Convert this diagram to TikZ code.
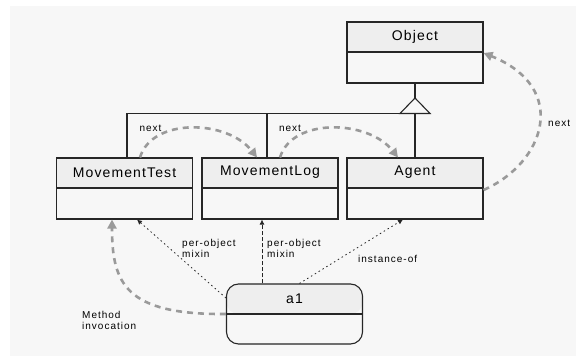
\documentclass[tikz,border=0pt]{standalone}
\usepackage{fontspec}
\setmainfont{Liberation Sans}
\newfontfamily\umlfont[LetterSpace=8]{Liberation Sans}
\newfontfamily\notefont[LetterSpace=10]{Liberation Sans}
\usetikzlibrary{arrows.meta}
\definecolor{bggray}{HTML}{F7F7F7}
\definecolor{hdrgray}{HTML}{EEEEEE}
\definecolor{nextgray}{HTML}{9A9A9A}
\tikzset{umlclass/.style={draw=black!85, line width=1.1pt,
         minimum width=136pt, minimum height=61pt, inner sep=0pt,
         path picture={
           \fill[hdrgray] (path picture bounding box.north west)
             rectangle ([yshift=-30pt]path picture bounding box.north east);
           \draw[black!85, line width=1.1pt]
             ([yshift=-30pt]path picture bounding box.north west)
             -- ([yshift=-30pt]path picture bounding box.north east);}},
         umltitle/.style={font=\umlfont\fontsize{14}{16}\selectfont, inner sep=0pt},
         umlnote/.style={font=\notefont\fontsize{10}{11}\selectfont, inner sep=0pt,
         align=left},
         umlline/.style={draw=black!85, line width=1.1pt},
         nextarr/.style={draw=nextgray, line width=2.6pt,
         dash pattern=on 6pt off 5pt, -{Triangle[length=9pt,width=9pt]}},
         mixinarr/.style={draw=black!85, line width=0.8pt,
         -{Latex[length=5pt,width=5pt]}}}

\begin{document}
\begin{tikzpicture}[x=1pt, y=1pt]
    \useasboundingbox (0,0) rectangle (584,358);
    \fill[bggray] (10,2) rectangle (576,352);

    \node[umlclass] (object) at (415,305.5) {};
    \node[umlclass] (mtest)  at (124.5,169.5) {};
    \node[umlclass] (mlog)   at (270,169.5) {};
    \node[umlclass] (agent)  at (415,169.5) {};
    \node[umlclass, rounded corners=12pt, minimum height=60pt] (a1) at (294.5,44) {};

    \node[umltitle] (object-t) at ([yshift=-15pt]object.north) {Object};
    \node[umltitle] (mtest-t)  at ([yshift=-15pt]mtest.north) {MovementTest};
    \node[umltitle] (mlog-t)   at ([yshift=-15pt]mlog.north) {MovementLog};
    \node[umltitle] (agent-t)  at ([yshift=-15pt]agent.north) {Agent};
    \node[umltitle] (a1-t)     at ([yshift=-15pt]a1.north) {a1};

    % generalization
    \coordinate (tri-apex) at (415,260);
    \coordinate (tri-l) at (400,244.5);
    \coordinate (tri-r) at (430,244.5);
    \draw[umlline] (object.south) -- (tri-apex);
    \draw[umlline, fill=bggray] (tri-apex) -- (tri-l) -- (tri-r) -- cycle;
    \draw[umlline] ([xshift=2.5pt]mtest.north) |- (tri-l);
    \draw[umlline] ([xshift=-3pt]mlog.north) -- ([xshift=-3pt]mlog.north |- tri-l);
    \draw[umlline] (agent.north) -- (agent.north |- tri-l);

    % next chain
    \draw[nextarr] ([xshift=15.5pt]mtest.north)
           .. controls +(12,40) and +(-30,38) .. ([xshift=-13pt]mlog.north);
    \draw[nextarr] ([xshift=10pt]mlog.north)
           .. controls +(12,40) and +(-30,38) .. ([xshift=-17pt]agent.north);
    \draw[nextarr] ([yshift=-1.5pt]agent.east)
           .. controls (545,195) and (570,270) .. ([yshift=-0.5pt]object.east);
    \node[umlnote] (next1) at (150.5,230) {next};
    \node[umlnote] (next2) at (290,230) {next};
    \node[umlnote, anchor=west] (next3) at (548,235) {next};

    % mixins and instance
    \draw[mixinarr, dash pattern=on 1.5pt off 3pt] ([yshift=16pt]a1.west) -- ([xshift=12.5pt]mtest.south);
    \draw[mixinarr, dash pattern=on 4pt off 2pt] ([xshift=-32.5pt]a1.north)
           -- ([xshift=-32.5pt]a1.north |- mlog.south);
    \draw[mixinarr, dash pattern=on 1.5pt off 3pt] ([xshift=5pt]a1.north) -- ([xshift=-12pt]agent.south);
    \node[umlnote, anchor=west] (mix1) at (182,110) {per-object\\mixin};
    \node[umlnote, anchor=west] (mix2) at (267,110) {per-object\\mixin};
    \node[umlnote, anchor=west] (inst) at (358,99) {instance-of};

    % method invocation
    \draw[nextarr] (a1.west) .. controls (125,43) and (112,75) .. ([xshift=-12.5pt]mtest.south);
    \node[umlnote, anchor=west] (minv) at (82,38) {Method\\invocation};
\end{tikzpicture}
\end{document}
